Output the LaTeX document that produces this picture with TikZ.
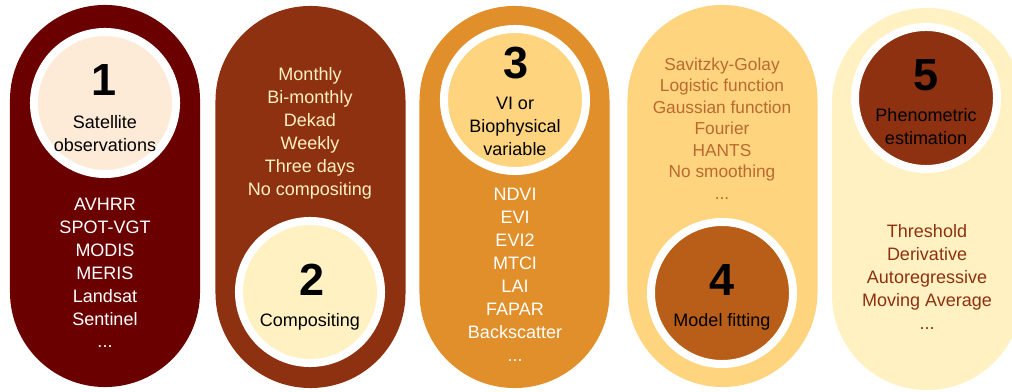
\documentclass[tikz,border=0pt]{standalone}
\usepackage{fontspec}
\setmainfont{Liberation Sans}
\usetikzlibrary{positioning}
\definecolor{PheMaroon}{RGB}{107,0,0}
\definecolor{PheRust}{RGB}{142,49,16}
\definecolor{PheOrange}{RGB}{224,143,42}
\definecolor{PheSand}{RGB}{254,212,127}
\definecolor{PheCream}{RGB}{255,241,193}
\definecolor{PhePeach}{RGB}{253,235,216}
\definecolor{PheBrown}{RGB}{184,94,24}
\definecolor{PheTan}{RGB}{186,106,48}
\tikzset{
  phe/pill/.style={
    rectangle,
    rounded corners=2.375cm,
    minimum width=4.75cm,
    minimum height=9.55cm,
    inner sep=0pt
  },
  phe/ring/.style={
    circle,
    draw=white,
    line width=0.2cm,
    minimum size=3.55cm,
    inner sep=0pt
  },
  phe/num/.style={font=\fontsize{32}{32}\selectfont\bfseries, text=black, inner sep=0pt},
  phe/label/.style={font=\fontsize{12.8}{16.3}\selectfont, align=center, text=black, inner sep=0pt},
  phe/list/.style={font=\fontsize{12.8}{16.3}\selectfont, align=center, inner sep=0pt},
  phe/smalllist/.style={font=\fontsize{12.3}{15.3}\selectfont, align=center, inner sep=0pt}
}

\begin{document}
\begin{tikzpicture}[x=0.025cm,y=-0.025cm]
  \clip (0,0) rectangle (1012,392);
  % pills
  \node[phe/pill,fill=PheMaroon] (pill1) at (105,196) {};
  \node[phe/pill,fill=PheRust] (pill2) at (310.5,197) {};
  \node[phe/pill,fill=PheOrange] (pill3) at (514.5,197) {};
  \node[phe/pill,fill=PheSand] (pill4) at (722.5,196) {};
  \node[phe/pill,fill=PheCream] (pill5) at (927,199) {};
  % circles
  \node[phe/ring,fill=PhePeach] (c1) at (105,103) {};
  \node[phe/ring,fill=PheCream] (c2) at (310,292) {};
  \node[phe/ring,fill=PheSand] (c3) at (515,100) {};
  \node[phe/ring,fill=PheBrown] (c4) at (722,293) {};
  \node[phe/ring,fill=PheRust] (c5) at (926,98) {};
  % step numbers and names
  \node[phe/num] (n1) at (104,80) {1};
  \node[phe/label] (l1) at (105,133.5) {Satellite\\observations};
  \node[phe/num] (n2) at (312,280) {2};
  \node[phe/label] (l2) at (310,322) {Compositing};
  \node[phe/num] (n3) at (516,63) {3};
  \node[phe/label] (l3) at (515,126) {VI or\\Biophysical\\variable};
  \node[phe/num] (n4) at (722,280) {4};
  \node[phe/label] (l4) at (722,322) {Model fitting};
  \node[phe/num] (n5) at (926,75) {5};
  \node[phe/label] (l5) at (926,126.5) {Phenometric\\estimation};
  % options per step
  \node[phe/list,text=white] (o1) at (105,273)
    {AVHRR\\SPOT-VGT\\MODIS\\MERIS\\Landsat\\Sentinel\\...};
  \node[phe/list,text=PheCream] (o2) at (310,133.5)
    {Monthly\\Bi-monthly\\Dekad\\Weekly\\Three days\\No compositing};
  \node[phe/list,text=white] (o3) at (515,275)
    {NDVI\\EVI\\EVI2\\MTCI\\LAI\\FAPAR\\Backscatter\\...};
  \node[phe/smalllist,text=PheTan] (o4) at (722,128.5)
    {Savitzky-Golay\\Logistic function\\Gaussian function\\Fourier\\HANTS\\No smoothing\\...};
  \node[phe/list,text=PheRust] (o5) at (927,277)
    {Threshold\\Derivative\\Autoregressive\\Moving Average\\...};
\end{tikzpicture}
\end{document}
